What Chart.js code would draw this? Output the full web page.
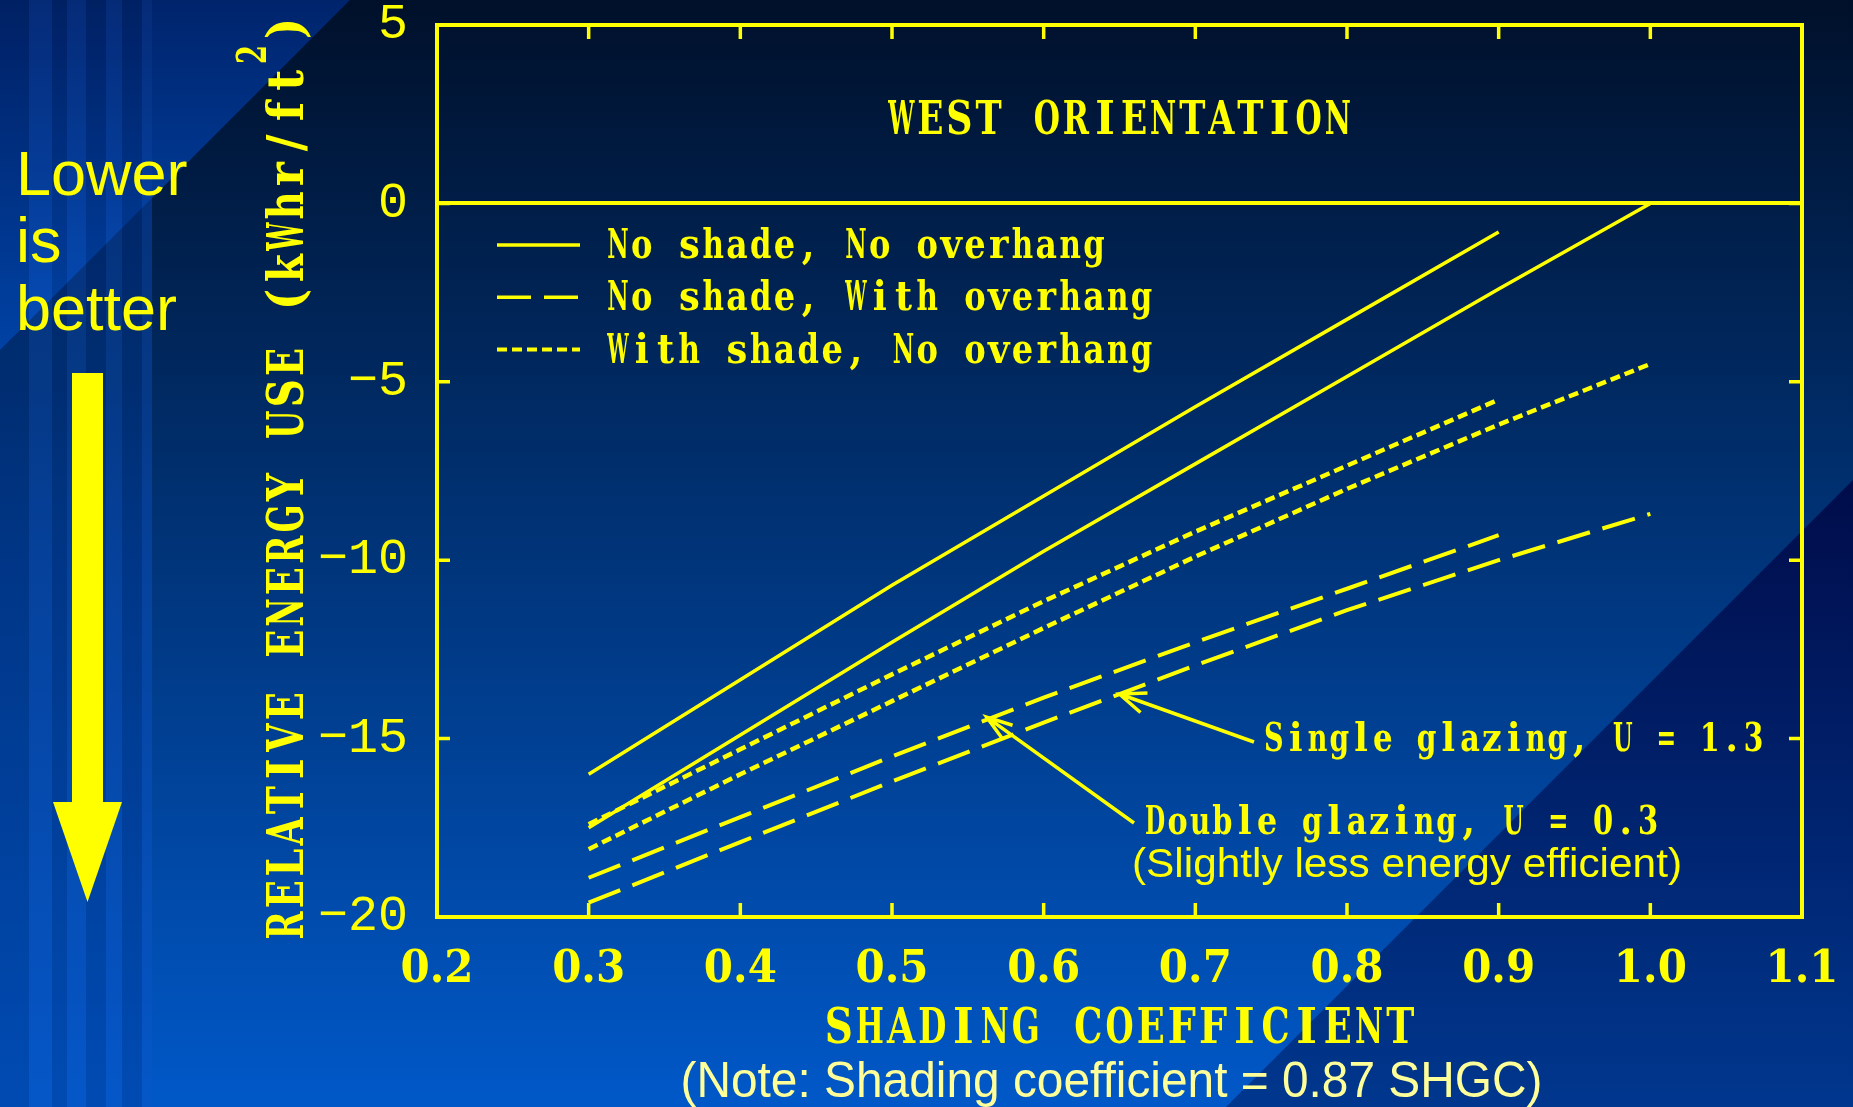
<!DOCTYPE html>
<html>
<head>
<meta charset="utf-8">
<title>West orientation - relative energy use</title>
<script src="https://cdn.jsdelivr.net/npm/chart.js@4.4.1/dist/chart.umd.min.js"></script>
<style>
  html, body { margin: 0; padding: 0; background: #00102a; overflow: hidden; }
  canvas { display: block; }
</style>
</head>
<body>
<canvas id="energyChart" width="1853" height="1107"></canvas>
<script>
// Shading coefficient samples (double glazing stops at 0.9)
const scDouble = [0.3, 0.4, 0.5, 0.6, 0.7, 0.8, 0.9];
const scSingle = [0.3, 0.4, 0.5, 0.6, 0.7, 0.8, 0.9, 1.0];

// Relative energy use, kWhr/ft2 - double glazing, U = 0.3
const doubleNoShadeNoOverhang = [-16.0, -13.35, -10.7, -8.2, -5.7, -3.25, -0.8];
const doubleShadeNoOverhang   = [-17.4, -15.3, -13.2, -11.15, -9.2, -7.35, -5.5];
const doubleNoShadeOverhang   = [-18.9, -17.2, -15.5, -13.85, -12.3, -10.8, -9.3];

// single glazing, U = 1.3
const singleNoShadeNoOverhang = [-17.5, -14.9, -12.3, -9.75, -7.3, -4.85, -2.4, 0.0];
const singleShadeNoOverhang   = [-18.1, -16.0, -13.95, -11.9, -9.9, -8.0, -6.2, -4.5];
const singleNoShadeOverhang   = [-19.6, -17.9, -16.2, -14.55, -12.95, -11.4, -10.0, -8.7];

const xTicks = [0.2, 0.3, 0.4, 0.5, 0.6, 0.7, 0.8, 0.9, 1.0, 1.1];
const yTicks = [5, 0, -5, -10, -15, -20];

const legendLabels = ['No shade, No overhang', 'No shade, With overhang', 'With shade, No overhang'];

// where the two callout arrows touch the overhang curves
const singleCallout = { x: 0.65, y: -13.75 };
const doubleCallout = { x: 0.5625, y: -14.4 };

const YELLOW = '#ffff00';
const MONO = '"Liberation Mono", "DejaVu Sans Mono", monospace';
const SERIF = '"DejaVu Serif", "Liberation Serif", serif';
const SANS = '"Liberation Sans", Arial, sans-serif';
const SOLID = [];
const DASHED = [34, 13];
const DOTTED = [10, 5];
const legendDashes = [SOLID, DASHED, DOTTED];

function series(xs, ys) {
    return xs.map((v, i) => ({ x: v, y: ys[i] }));
}

function curve(label, xs, ys, dash) {
    return {
        label: label,
        data: series(xs, ys),
        borderColor: YELLOW,
        borderWidth: dash === SOLID ? 3.5 : (dash === DOTTED ? 4.5 : 4),
        borderDash: dash,
        borderCapStyle: 'butt',
        pointRadius: 0,
        fill: false,
        tension: 0
    };
}

function fontForCap(ctx, weight, family, cap) {
    ctx.font = `${weight} 100px ${family}`;
    const capRef = ctx.measureText('H').actualBoundingBoxAscent;
    ctx.font = `${weight} ${100 * cap / capRef}px ${family}`;
}

// Text squeezed to a given cap height and total width
function fitText(ctx, text, x, y, o) {
    ctx.save();
    fontForCap(ctx, o.weight || 'normal', o.family || SERIF, o.cap);
    const natural = ctx.measureText(text).width;
    ctx.translate(x, y);
    if (o.angle) ctx.rotate(o.angle);
    ctx.scale((o.width || natural) / natural, 1);
    ctx.textAlign = o.align || 'left';
    ctx.textBaseline = 'alphabetic';
    ctx.fillStyle = o.color || YELLOW;
    ctx.fillText(text, 0, 0);
    ctx.restore();
}

// Typewriter-style text: every glyph centred in a fixed-width cell
function cellText(ctx, text, x, y, o) {
    ctx.save();
    fontForCap(ctx, o.weight || 'bold', SERIF, o.cap);
    const total = o.cell * text.length;
    const start = o.align === 'center' ? -total / 2 : 0;
    ctx.translate(x, y);
    if (o.angle) ctx.rotate(o.angle);
    ctx.fillStyle = o.color || YELLOW;
    ctx.textAlign = 'center';
    ctx.textBaseline = 'alphabetic';
    for (let i = 0; i < text.length; i++) {
        const ch = text[i];
        if (ch === ' ') continue;
        const w = ctx.measureText(ch).width;
        const sx = Math.min(o.maxSx || 0.9, o.cell * 0.9 / w);
        ctx.save();
        ctx.translate(start + (i + 0.5) * o.cell, 0);
        ctx.scale(sx, 1);
        ctx.fillText(ch, 0, 0);
        ctx.restore();
    }
    ctx.restore();
}

function calloutArrow(ctx, fromX, fromY, tipX, tipY, len, spread) {
    const ang = Math.atan2(fromY - tipY, fromX - tipX);
    ctx.beginPath();
    ctx.moveTo(fromX, fromY);
    ctx.lineTo(tipX, tipY);
    ctx.moveTo(tipX + len * Math.cos(ang + spread), tipY + len * Math.sin(ang + spread));
    ctx.lineTo(tipX, tipY);
    ctx.lineTo(tipX + len * Math.cos(ang - spread), tipY + len * Math.sin(ang - spread));
    ctx.stroke();
}

// Slide background: blue gradient, striped left band, two diagonal wedges
const backdrop = {
    id: 'backdrop',
    beforeDraw(chart) {
        const { ctx, width, height } = chart;
        ctx.save();
        let g = ctx.createLinearGradient(0, 0, 0, height);
        g.addColorStop(0, '#00102a');
        g.addColorStop(1, '#0058c8');
        ctx.fillStyle = g;
        ctx.fillRect(0, 0, width, height);

        g = ctx.createLinearGradient(0, 0, 0, height);
        g.addColorStop(0, '#002468');
        g.addColorStop(0.35, '#00337c');
        g.addColorStop(0.5, '#003c92');
        g.addColorStop(1, '#0054c4');
        ctx.fillStyle = g;
        ctx.fillRect(0, 0, 152, height);

        g = ctx.createLinearGradient(0, 0, 0, 350);
        g.addColorStop(0, '#00246c');
        g.addColorStop(1, '#004ab4');
        ctx.fillStyle = g;
        ctx.beginPath();
        ctx.moveTo(0, 0);
        ctx.lineTo(350, 0);
        ctx.lineTo(0, 350);
        ctx.closePath();
        ctx.fill();

        const stripes = [[0, 29, -1], [29, 52, 1], [52, 67, -1], [67, 86, 1],
                         [86, 106, -1], [106, 122, 1], [122, 142, -1], [142, 152, 1]];
        stripes.forEach(([a, b, s]) => {
            ctx.fillStyle = s > 0 ? 'rgba(60,130,255,0.08)' : 'rgba(0,0,30,0.10)';
            ctx.fillRect(a, 0, b - a, height);
        });

        g = ctx.createLinearGradient(0, 480, 0, height);
        g.addColorStop(0, '#000c4a');
        g.addColorStop(1, '#00378e');
        ctx.fillStyle = g;
        ctx.beginPath();
        ctx.moveTo(width, 2333 - width);
        ctx.lineTo(width, height);
        ctx.lineTo(2333 - height, height);
        ctx.closePath();
        ctx.fill();
        ctx.restore();
    }
};

// Frame, inward ticks, x labels, titles, legend and callouts
const decorations = {
    id: 'decorations',
    afterDraw(chart) {
        const { ctx, chartArea: a, scales: { x, y } } = chart;
        ctx.save();
        ctx.strokeStyle = YELLOW;
        ctx.fillStyle = YELLOW;
        ctx.lineWidth = 4;
        ctx.strokeRect(a.left, a.top, a.right - a.left, a.bottom - a.top);

        ctx.lineWidth = 3.5;
        ctx.beginPath();
        xTicks.forEach(v => {
            const px = x.getPixelForValue(v);
            ctx.moveTo(px, a.bottom); ctx.lineTo(px, a.bottom - 14);
            ctx.moveTo(px, a.top); ctx.lineTo(px, a.top + 14);
        });
        yTicks.forEach(v => {
            const py = y.getPixelForValue(v);
            ctx.moveTo(a.left, py); ctx.lineTo(a.left + 13, py);
            ctx.moveTo(a.right, py); ctx.lineTo(a.right - 13, py);
        });
        ctx.stroke();

        xTicks.forEach(v => {
            fitText(ctx, v.toFixed(1), x.getPixelForValue(v), a.bottom + 65,
                { cap: 33, width: 73, align: 'center', weight: 'bold' });
        });

        const midX = (a.left + a.right) / 2;
        cellText(ctx, 'WEST ORIENTATION', midX, 134, { cap: 34, cell: 29.1, align: 'center' });
        cellText(ctx, 'SHADING COEFFICIENT', midX, 1043, { cap: 36, cell: 31.2, align: 'center' });
        fitText(ctx, '(Note: Shading coefficient = 0.87 SHGC)', midX - 8, 1097,
            { cap: 35, width: 862, align: 'center', family: SANS, color: '#ffff9a' });

        // rotated y title with superscript
        const up = -Math.PI / 2;
        cellText(ctx, 'RELATIVE ENERGY USE (kWhr/ft', 303, 941, { cap: 37, cell: 31.3, angle: up });
        cellText(ctx, '2', 266, 65, { cap: 30, cell: 21, angle: up });
        cellText(ctx, ')', 303, 44, { cap: 37, cell: 31.3, angle: up });

        // legend
        legendLabels.forEach((label, i) => {
            const base = 258 + i * 52.3;
            ctx.lineWidth = i === 2 ? 4 : 3.5;
            ctx.setLineDash(legendDashes[i]);
            ctx.beginPath();
            ctx.moveTo(497, base - 13);
            ctx.lineTo(580, base - 13);
            ctx.stroke();
            ctx.setLineDash([]);
            cellText(ctx, label, 606, base, { cap: 30, cell: 23.8 });
        });

        // callouts
        ctx.lineWidth = 3.5;
        calloutArrow(ctx, 1254, 742, x.getPixelForValue(singleCallout.x), y.getPixelForValue(singleCallout.y), 28, 0.38);
        calloutArrow(ctx, 1134, 823, x.getPixelForValue(doubleCallout.x), y.getPixelForValue(doubleCallout.y), 27, 0.32);
        cellText(ctx, 'Single glazing, U = 1.3', 1263, 751, { cap: 29, cell: 21.8 });
        cellText(ctx, 'Double glazing, U = 0.3', 1144, 834, { cap: 29, cell: 22.4 });
        fitText(ctx, '(Slightly less energy efficient)', 1132, 877,
            { cap: 28, width: 550, family: SANS });

        // "Lower is better" with the big arrow
        ctx.font = `63px ${SANS}`;
        ctx.textAlign = 'left';
        ctx.textBaseline = 'alphabetic';
        ctx.fillText('Lower', 16, 195);
        ctx.fillText('is', 16, 262);
        ctx.fillText('better', 16, 330);
        ctx.fillRect(72, 373, 31, 430);
        ctx.beginPath();
        ctx.moveTo(53, 802);
        ctx.lineTo(122, 802);
        ctx.lineTo(87.5, 902);
        ctx.closePath();
        ctx.fill();
        ctx.restore();
    }
};

const chart = new Chart(document.getElementById('energyChart'), {
    type: 'line',
    data: {
        datasets: [
            curve('Double, no shade, no overhang', scDouble, doubleNoShadeNoOverhang, SOLID),
            curve('Single, no shade, no overhang', scSingle, singleNoShadeNoOverhang, SOLID),
            curve('Double, with shade, no overhang', scDouble, doubleShadeNoOverhang, DOTTED),
            curve('Single, with shade, no overhang', scSingle, singleShadeNoOverhang, DOTTED),
            curve('Double, no shade, with overhang', scDouble, doubleNoShadeOverhang, DASHED),
            curve('Single, no shade, with overhang', scSingle, singleNoShadeOverhang, DASHED)
        ]
    },
    options: {
        responsive: false,
        devicePixelRatio: 1,
        animation: false,
        events: [],
        layout: { padding: { left: 0, right: 51, top: 25, bottom: 0 } },
        scales: {
            x: {
                type: 'linear',
                min: 0.2,
                max: 1.1,
                afterFit: s => { s.height = 190; s.paddingLeft = 0; s.paddingRight = 0; },
                ticks: { display: false },
                grid: { display: false },
                border: { display: false }
            },
            y: {
                type: 'linear',
                min: -20,
                max: 5,
                afterBuildTicks: s => { s.ticks = yTicks.map(v => ({ value: v })); },
                afterFit: s => { s.width = 437; s.paddingTop = 0; s.paddingBottom = 0; },
                grid: {
                    // only the zero line is drawn across the plot
                    color: c => (c.tick && c.tick.value === 0) ? YELLOW : 'rgba(0,0,0,0)',
                    lineWidth: 4,
                    drawTicks: false
                },
                border: { display: false },
                ticks: {
                    color: YELLOW,
                    padding: 29,
                    font: { family: MONO, size: 50, weight: 'normal', lineHeight: 1 },
                    callback: v => v < 0 ? '\u2212' + Math.abs(v) : String(v)
                }
            }
        },
        plugins: {
            legend: { display: false },
            title: { display: false },
            tooltip: { enabled: false }
        }
    },
    plugins: [backdrop, decorations]
});
</script>
</body>
</html>
